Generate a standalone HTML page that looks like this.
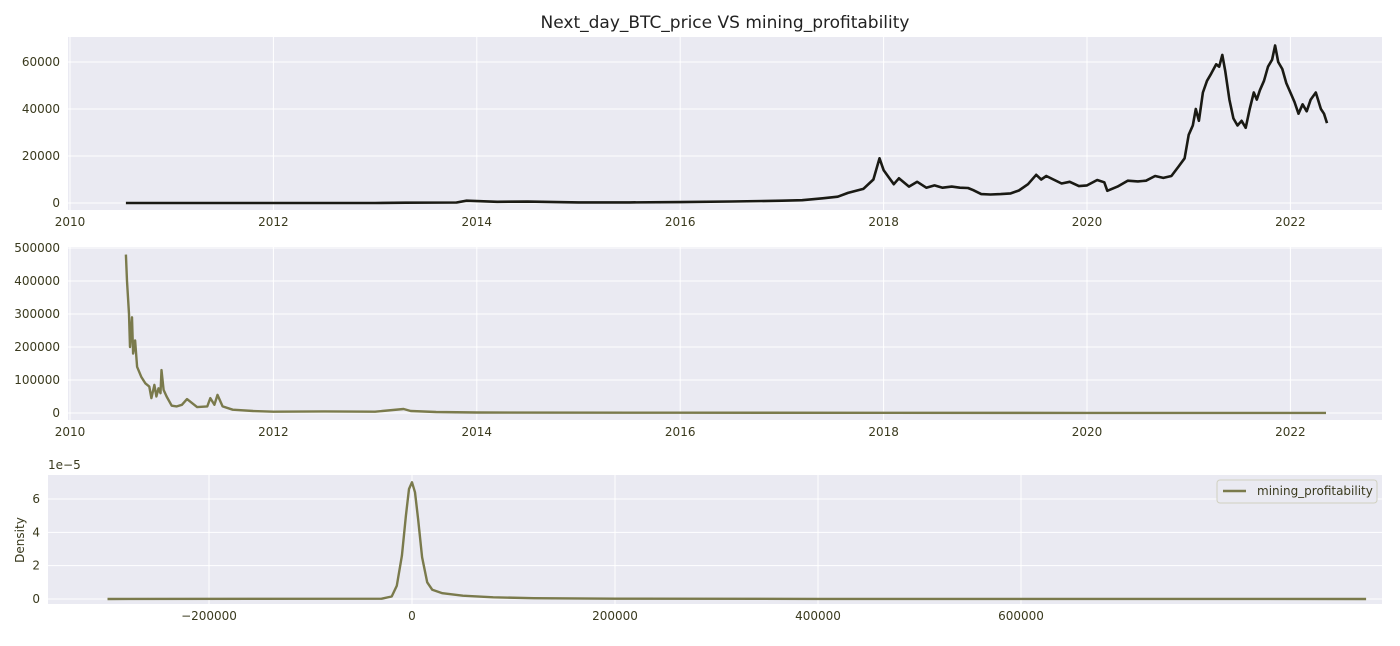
<!DOCTYPE html>
<html><head><meta charset="utf-8">
<style>
body{margin:0;background:#fff;width:1400px;height:641px;overflow:hidden;font-family:"Liberation Sans",sans-serif}
svg text{font-family:"DejaVu Sans","Liberation Sans",sans-serif;fill:#3a3a1e}
</style></head>
<body>
<svg id="chart" width="1400" height="641" xmlns="http://www.w3.org/2000/svg">
<text x="725" y="28" font-size="17" text-anchor="middle" style="fill:#222">Next_day_BTC_price VS mining_profitability</text>
</svg>
<script>
// ---- data ----
const btcDates = [2010.55,2011.0,2011.5,2012,2013,2013.3,2013.8,2013.9,2014.0,2014.2,2014.5,2015,2015.5,2016,2016.5,2017,2017.2,2017.4,2017.55,2017.65,2017.8,2017.9,2017.96,2018.0,2018.05,2018.1,2018.15,2018.25,2018.33,2018.42,2018.5,2018.58,2018.67,2018.75,2018.83,2018.88,2018.96,2019.05,2019.15,2019.25,2019.33,2019.42,2019.5,2019.55,2019.6,2019.67,2019.75,2019.83,2019.92,2020.0,2020.1,2020.17,2020.2,2020.3,2020.4,2020.5,2020.58,2020.67,2020.75,2020.83,2020.9,2020.96,2021.0,2021.04,2021.07,2021.1,2021.14,2021.18,2021.22,2021.27,2021.3,2021.33,2021.36,2021.4,2021.44,2021.48,2021.52,2021.56,2021.6,2021.64,2021.67,2021.7,2021.74,2021.78,2021.82,2021.85,2021.88,2021.92,2021.96,2022.0,2022.04,2022.08,2022.12,2022.16,2022.2,2022.25,2022.3,2022.33,2022.36];
const btcPrice = [0,1,15,5,13,130,200,1000,800,500,600,250,250,400,650,1000,1200,2000,2700,4300,6000,10000,19000,14000,11000,8000,10500,7000,9000,6500,7500,6500,7000,6500,6400,5500,3800,3600,3800,4100,5300,8000,12000,10000,11500,10000,8300,9000,7200,7500,9800,8800,5200,7000,9500,9200,9500,11500,10700,11500,15500,19000,29000,33000,40000,35000,47000,52000,55000,59000,58000,63000,56000,44000,36000,33000,35000,32000,40000,47000,44000,48000,52000,58000,61000,67000,60000,57000,51000,47000,43000,38000,42000,39000,44000,47000,40000,38000,34000];
const mpDates = [2010.55,2010.56,2010.58,2010.59,2010.61,2010.62,2010.64,2010.66,2010.7,2010.74,2010.78,2010.8,2010.83,2010.85,2010.87,2010.89,2010.9,2010.92,2010.95,2011.0,2011.05,2011.1,2011.15,2011.25,2011.35,2011.38,2011.42,2011.45,2011.5,2011.6,2011.8,2012.0,2012.5,2013.0,2013.28,2013.35,2013.6,2014.0,2016.0,2018.0,2020.0,2022.35];
const mpValues = [480000,400000,300000,200000,290000,180000,220000,140000,110000,90000,80000,45000,85000,50000,75000,60000,130000,70000,50000,22000,20000,25000,42000,18000,20000,45000,25000,55000,20000,10000,6000,4000,5000,4000,12000,6000,3000,1500,800,500,300,300];
const kdeX = [-300000,-30000,-20000,-15000,-10000,-6000,-3000,0,3000,6000,10000,15000,20000,30000,50000,80000,120000,200000,400000,940000];
const kdeY = [0,0.02,0.15,0.8,2.6,5.0,6.6,7.0,6.4,4.8,2.5,1.0,0.55,0.35,0.2,0.1,0.05,0.02,0.005,0];
const yearTicks = [2010,2012,2014,2016,2018,2020,2022];
const btcTicks = [0,20000,40000,60000];
const mpTicks = [0,100000,200000,300000,400000,500000];
const kdeXTicks = [-200000,0,200000,400000,600000];
const kdeYTicks = [0,2,4,6];

const NS="http://www.w3.org/2000/svg";
const svg=document.getElementById('chart');
function mk(tag,attrs,parent){const e=document.createElementNS(NS,tag);for(const k in attrs)e.setAttribute(k,attrs[k]);(parent||svg).appendChild(e);return e;}
function txt(x,y,s,anchor,size){const t=mk('text',{x:x,y:y,'font-size':size||12,'text-anchor':anchor||'middle'});t.textContent=s;return t;}

function panel(name,L,T,R,B,xs,ys,xt,yt,xfmt){
  const g=mk('g',{});
  
  
  mk('rect',{x:L,y:T,width:R-L,height:B-T,fill:'#eaeaf2'},g);
  xt.forEach(v=>{const x=xs(v);mk('line',{x1:x,x2:x,y1:T,y2:B,stroke:'#fff','stroke-width':1},g);
    const t=txt(x,B+16,xfmt?xfmt(v):String(v));});
  yt.forEach(v=>{const y=ys(v);mk('line',{x1:L,x2:R,y1:y,y2:y,stroke:'#fff','stroke-width':1},g);
    const t=txt(L-8,y+4,String(v),'end');});
  return g;
}
function line(xsArr,ysArr,xs,ys,color,w,name){
  let d='';xsArr.forEach((v,i)=>{d+=(i?'L':'M')+xs(v).toFixed(1)+' '+ys(ysArr[i]).toFixed(1);});
  const p=mk('path',{d:d,fill:'none',stroke:color,'stroke-width':w,'stroke-linejoin':'round'});
  
  
}
// panel 1
const xs1=v=>70+(v-2010)*101.7;
const ys1=v=>203-v*(47/20000);
panel('btc-price-panel',68,37,1382,210,xs1,ys1,yearTicks,btcTicks);
line(btcDates,btcPrice,xs1,ys1,'#1a1a14',2.6,'btc-price-line');
// panel 2
const ys2=v=>413-v*(33/100000);
panel('mining-profitability-panel',68,247,1382,420,xs1,ys2,yearTicks,mpTicks);
line(mpDates,mpValues,xs1,ys2,'#7a7a4c',2.4,'mining-profitability-line');
// panel 3
const xs3=v=>412+v*(203/200000);
const ys3=v=>599-v*(100/6);
panel('density-panel',48,475,1382,604,xs3,ys3,kdeXTicks,kdeYTicks,v=>v<0?'\u2212'+(-v):String(v));
line(kdeX,kdeY,xs3,ys3,'#7a7a4c',2.4,'density-line');
const sc=txt(48,469,'1e\u22125','start',12);
const yl=mk('text',{x:0,y:0,'font-size':12,'text-anchor':'middle',transform:'translate(24,540) rotate(-90)'});yl.textContent='Density';


const lg=mk('g',{});


mk('rect',{x:1217,y:480,width:160,height:23,rx:3,fill:'#eaeaf2',stroke:'#d0d0c0'},lg);
mk('line',{x1:1223,x2:1246,y1:491,y2:491,stroke:'#7a7a4c','stroke-width':2.5},lg);
const lt=mk('text',{x:1257,y:495,'font-size':12},lg);lt.textContent='mining_profitability';


</script>
</body></html>
